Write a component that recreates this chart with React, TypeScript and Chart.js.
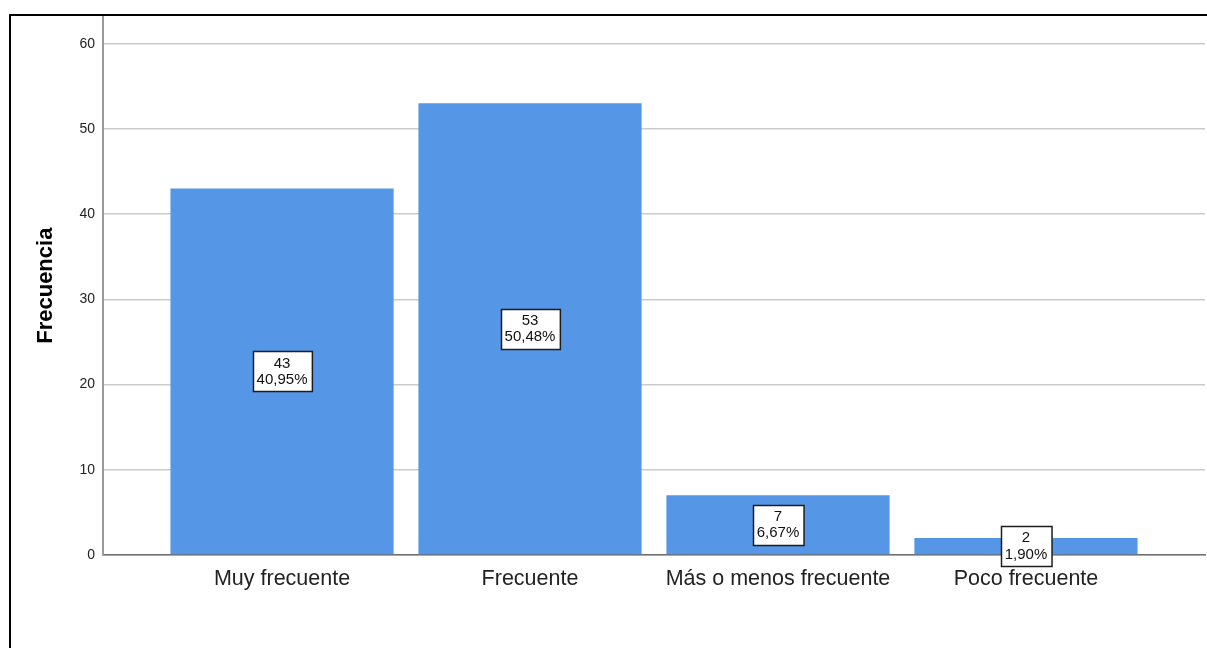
import React, { useEffect, useRef } from "react";
import { Chart, registerables } from "chart.js";

Chart.register(...registerables);

const categories = ["Muy frecuente", "Frecuente", "Más o menos frecuente", "Poco frecuente"];
const frequencies = [43, 53, 7, 2];
const yTickValues = [0, 10, 20, 30, 40, 50, 60];
const yAxisTitle = "Frecuencia";

const FONT = '"Liberation Sans", Arial, Helvetica, sans-serif';

const total = frequencies.reduce((a, b) => a + b, 0);
const pctLabel = (v: number) => ((v / total) * 100).toFixed(2).replace(".", ",") + "%";

const boxLabels = {
  id: "boxLabels",
  afterDatasetsDraw(chart: any) {
    const ctx = chart.ctx;
    const meta = chart.getDatasetMeta(0);
    ctx.save();
    ctx.font = `15px ${FONT}`;
    meta.data.forEach((bar: any, i: number) => {
      const { x, y, base } = bar.getProps(["x", "y", "base"], true);
      const cy = (y + base) / 2;
      const lines = [String(frequencies[i]), pctLabel(frequencies[i])];
      const w = Math.max(...lines.map((l) => ctx.measureText(l).width)) + 8;
      const h = 40;
      const bx = Math.round(x - w / 2) + 0.5;
      const by = Math.round(cy - h / 2) + 0.5;
      ctx.fillStyle = "#ffffff";
      ctx.fillRect(bx, by, w, h);
      ctx.strokeStyle = "#1e1e1e";
      ctx.lineWidth = 1.5;
      ctx.strokeRect(bx, by, w, h);
      ctx.fillStyle = "#111111";
      ctx.textAlign = "center";
      ctx.textBaseline = "middle";
      ctx.fillText(lines[0], x, cy - 8);
      ctx.fillText(lines[1], x, cy + 8.5);
    });
    ctx.restore();
  },
};

export default function App() {
  const canvasRef = useRef<HTMLCanvasElement | null>(null);

  useEffect(() => {
    if (!canvasRef.current) return;
    const chart = new Chart(canvasRef.current, {
      type: "bar",
      data: {
        datasets: [
          {
            data: frequencies.map((v, i) => ({ x: i, y: v })),
            backgroundColor: "#5596e6",
            borderWidth: 0,
            categoryPercentage: 1,
            barPercentage: 0.9,
          },
        ],
      },
      options: {
        animation: false,
        responsive: false,
        devicePixelRatio: 1,
        layout: { padding: { left: 0, top: 16, right: 2, bottom: 0 } },
        plugins: {
          legend: { display: false },
          tooltip: { enabled: false },
        },
        scales: {
          x: {
            type: "linear",
            offset: false,
            min: -0.722,
            max: 3.722,
            afterBuildTicks: (scale: any) => {
              scale.ticks = categories.map((_, i) => ({ value: i }));
            },
            afterFit: (scale: any) => {
              scale.height = 93;
            },
            grid: { display: false, drawTicks: false, offset: false },
            border: { display: true, color: "#6e6e6e", width: 1.5 },
            ticks: {
              padding: 11,
              color: "#222222",
              font: { family: FONT, size: 21.5 },
              maxRotation: 0,
              autoSkip: false,
              callback: (value: any) => categories[value as number] ?? "",
            },
          },
          y: {
            type: "linear",
            min: 0,
            max: 63.2,
            afterBuildTicks: (scale: any) => {
              scale.ticks = yTickValues.map((v) => ({ value: v }));
            },
            afterFit: (scale: any) => {
              scale.width = 103;
            },
            grid: { color: "#cbcbcb", lineWidth: 1.5, drawTicks: false },
            border: { display: true, color: "#9a9a9a", width: 2 },
            ticks: {
              padding: 8,
              color: "#222222",
              font: { family: FONT, size: 14 },
            },
            title: {
              display: true,
              text: yAxisTitle,
              color: "#000000",
              font: { family: FONT, size: 22, weight: "bold" },
              padding: { top: 33, bottom: 0 },
            },
          },
        },
      },
      plugins: [boxLabels],
    });
    return () => chart.destroy();
  }, []);

  return (
    <div
      style={{
        position: "fixed",
        left: 0,
        top: 0,
        width: 1207,
        height: 648,
        overflow: "hidden",
        background: "#ffffff",
      }}
    >
      <canvas ref={canvasRef} width={1207} height={648} style={{ display: "block", width: 1207, height: 648 }} />
      <div
        style={{
          position: "absolute",
          left: 9,
          top: 14,
          width: 1400,
          height: 800,
          borderLeft: "2px solid #000",
          borderTop: "2px solid #000",
          pointerEvents: "none",
        }}
      />
    </div>
  );
}
